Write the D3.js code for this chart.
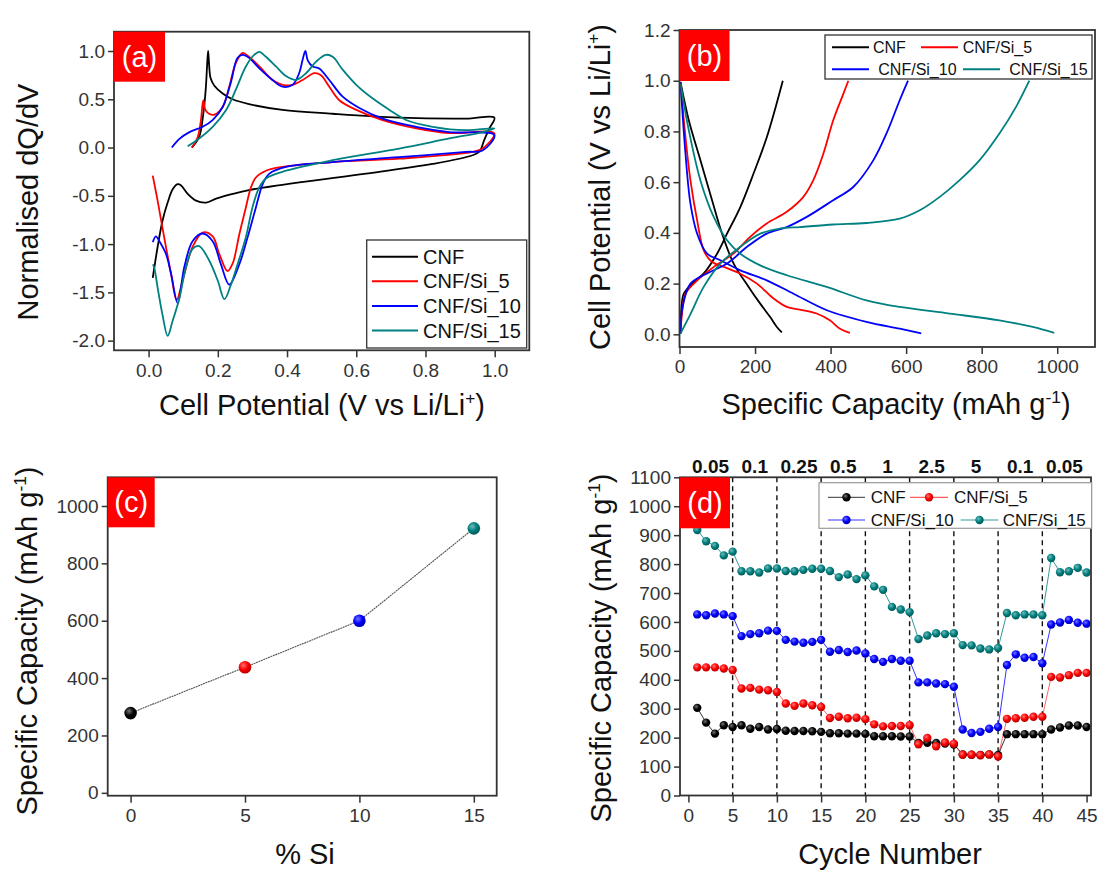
<!DOCTYPE html>
<html><head><meta charset="utf-8">
<script src="https://cdn.jsdelivr.net/npm/d3@7"></script>
<style>
body{margin:0;background:#fff;}
svg{display:block;font-family:"Liberation Sans",Arial,sans-serif;}
</style></head><body>
<svg id="fig" width="1098" height="872"></svg>
<script>
// ---------------- DATA ----------------
const seriesNames = ["CNF", "CNF/Si_5", "CNF/Si_10", "CNF/Si_15"];
const seriesColors = ["#000000", "#ff0000", "#0000ff", "#008080"];

// (a) dQ/dV curves: [potential V, normalised dQ/dV]
const cvCNF = [[0.125,0.0],[0.146,0.11],[0.158,0.35],[0.165,0.6],[0.169,0.85],[0.172,1.0],[0.175,0.85],[0.179,0.72],[0.19,0.64],[0.214,0.56],[0.243,0.5],[0.29,0.45],[0.387,0.39],[0.532,0.35],[0.724,0.31],[0.917,0.30],[0.999,0.31],[0.985,0.2],[0.97,0.08],[0.956,-0.04],[0.936,-0.08],[0.82,-0.17],[0.628,-0.27],[0.435,-0.36],[0.29,-0.44],[0.243,-0.48],[0.195,-0.53],[0.166,-0.57],[0.137,-0.55],[0.113,-0.48],[0.093,-0.39],[0.084,-0.38],[0.07,-0.43],[0.055,-0.57],[0.04,-0.76],[0.026,-1.03],[0.012,-1.35]];
const cvSi5 = [[0.125,0.0],[0.142,0.11],[0.151,0.28],[0.158,0.49],[0.164,0.39],[0.175,0.35],[0.19,0.34],[0.214,0.42],[0.233,0.63],[0.252,0.875],[0.272,0.98],[0.29,0.94],[0.32,0.84],[0.358,0.70],[0.387,0.65],[0.416,0.65],[0.445,0.70],[0.479,0.77],[0.498,0.75],[0.522,0.63],[0.551,0.49],[0.6,0.39],[0.676,0.285],[0.773,0.20],[0.869,0.15],[0.999,0.146],[0.965,-0.01],[0.936,-0.045],[0.724,-0.115],[0.532,-0.15],[0.387,-0.2],[0.339,-0.24],[0.31,-0.31],[0.296,-0.41],[0.281,-0.62],[0.262,-0.9],[0.243,-1.2],[0.228,-1.28],[0.204,-1.1],[0.185,-0.92],[0.156,-0.88],[0.127,-1.03],[0.098,-1.38],[0.081,-1.58],[0.065,-1.31],[0.045,-0.93],[0.026,-0.55],[0.012,-0.29]];
const cvSi10 = [[0.067,0.0],[0.089,0.09],[0.118,0.16],[0.156,0.215],[0.185,0.285],[0.214,0.42],[0.238,0.68],[0.257,0.93],[0.272,0.96],[0.29,0.93],[0.32,0.82],[0.358,0.70],[0.387,0.63],[0.416,0.65],[0.435,0.77],[0.445,0.91],[0.453,1.0],[0.46,0.9],[0.474,0.84],[0.493,0.82],[0.522,0.70],[0.56,0.53],[0.609,0.41],[0.676,0.30],[0.773,0.215],[0.869,0.16],[0.999,0.13],[0.965,-0.03],[0.917,-0.045],[0.724,-0.1],[0.532,-0.15],[0.397,-0.2],[0.349,-0.27],[0.33,-0.375],[0.31,-0.62],[0.286,-0.93],[0.262,-1.21],[0.233,-1.42],[0.209,-1.21],[0.185,-0.97],[0.156,-0.89],[0.127,-0.97],[0.103,-1.24],[0.084,-1.61],[0.065,-1.31],[0.05,-1.1],[0.031,-0.97],[0.021,-0.92],[0.012,-0.98]];
const cvSi15 = [[0.113,0.014],[0.146,0.094],[0.185,0.215],[0.224,0.39],[0.252,0.6],[0.281,0.84],[0.305,0.96],[0.32,0.99],[0.339,0.94],[0.368,0.84],[0.397,0.74],[0.426,0.70],[0.455,0.77],[0.484,0.89],[0.512,0.96],[0.532,0.94],[0.56,0.81],[0.6,0.65],[0.647,0.51],[0.696,0.39],[0.744,0.285],[0.821,0.215],[0.917,0.18],[0.999,0.2],[0.965,0.16],[0.869,0.094],[0.724,-0.01],[0.532,-0.13],[0.397,-0.24],[0.339,-0.32],[0.32,-0.41],[0.3,-0.62],[0.281,-0.93],[0.257,-1.21],[0.238,-1.42],[0.219,-1.57],[0.2,-1.38],[0.175,-1.17],[0.146,-1.02],[0.127,-1.05],[0.108,-1.24],[0.089,-1.56],[0.069,-1.8],[0.055,-1.95],[0.04,-1.73],[0.026,-1.45],[0.016,-1.24],[0.012,-1.21]];

// (b) charge/discharge: [capacity mAh/g, potential V]
const disCNF = [[2.6,0.995],[24.6,0.844],[55.4,0.686],[86.2,0.529],[112.6,0.397],[143.4,0.279],[183,0.187],[213.7,0.121],[240,0.068],[257.7,0.029],[271,0.008]];
const chgCNF = [[2.6,0.003],[5.3,0.108],[11.4,0.16],[33.4,0.2],[64.2,0.24],[99.4,0.318],[125.8,0.397],[161,0.502],[196,0.634],[231.3,0.778],[273.5,1.0]];
const disSi5 = [[2.6,0.995],[15.8,0.778],[29,0.607],[46.6,0.45],[64.2,0.331],[86.2,0.285],[117,0.266],[161,0.239],[205,0.2],[249,0.141],[284,0.108],[319,0.097],[363,0.082],[398,0.055],[425,0.022],[451,0.006]];
const chgSi5 = [[2.6,0.003],[6.6,0.08],[15.8,0.16],[47,0.213],[91,0.266],[143,0.318],[187,0.384],[231,0.437],[284,0.483],[328,0.542],[354,0.607],[381,0.713],[407,0.844],[434,0.949],[447,1.0]];
const disSi10 = [[2.6,0.995],[15.8,0.713],[29,0.515],[46.6,0.397],[73,0.318],[108,0.292],[161,0.252],[231,0.213],[302,0.16],[390,0.095],[495,0.049],[583,0.022],[640,0.004]];
const chgSi10 = [[2.6,0.003],[6.6,0.095],[29,0.2],[73,0.24],[126,0.279],[179,0.345],[231,0.397],[284,0.423],[337,0.463],[407,0.529],[460,0.581],[513,0.686],[548,0.792],[583,0.923],[605,1.0]];
const disSi15 = [[2.6,0.989],[24.6,0.805],[55.4,0.607],[90.6,0.463],[125.8,0.371],[161,0.318],[213.7,0.272],[284,0.233],[389.6,0.187],[495,0.134],[583,0.108],[715,0.082],[847,0.055],[935,0.029],[992,0.006]];
const chgSi15 = [[2.6,0.003],[29,0.08],[64,0.187],[108,0.279],[161,0.345],[214,0.397],[266,0.417],[319,0.423],[407,0.433],[495,0.439],[583,0.456],[636,0.489],[689,0.542],[741,0.607],[794,0.686],[847,0.792],[891,0.897],[926,1.0]];

// (c) capacity vs Si content
const siPercent = [0, 5, 10, 15];
const siCapacity = [278, 438, 600, 922];

// (d) rate capability
const cycles = d3.range(1, 46);
const rateCNF = [303,252,214,243,237,243,231,237,228,230,224,223,223,222,220,215,215,214,214,213,205,205,205,204,204,182,182,182,180,176,142,141,140,142,140,212,212,212,212,212,228,235,242,242,237];
const rateSi5 = [443,443,443,439,434,370,372,366,364,358,318,310,318,312,306,268,272,267,269,264,246,239,240,240,243,177,199,170,183,179,141,141,139,142,135,265,267,269,272,272,410,408,416,424,424];
const rateSi10 = [626,623,629,626,620,551,558,561,570,569,538,532,528,531,538,497,503,496,501,491,472,462,472,466,466,391,391,387,385,376,228,216,220,231,237,451,488,476,479,457,591,598,607,597,594];
const rateSi15 = [918,879,863,830,843,775,775,771,785,785,776,775,780,784,784,776,755,764,748,761,723,711,652,643,634,541,553,561,558,561,520,519,508,505,510,631,623,626,626,623,821,772,775,787,771];
const rateBoundaries = [0, 5, 10, 15, 20, 25, 30, 35, 40, 45];
const rateLabels = ["0.05", "0.1", "0.25", "0.5", "1", "2.5", "5", "0.1", "0.05"];

// ---------------- DRAW ----------------
const svg = d3.select("#fig");
const AX = "#333";
const TICKFS = 19, TITLEFS = 29;

function panel(x0, x1, y0, y1, xd, yd) {
  return {
    x: d3.scaleLinear().domain(xd).range([x0, x1]),
    y: d3.scaleLinear().domain(yd).range([y1, y0])
  };
}
function styleAxis(g) {
  g.select(".domain").remove();
  g.selectAll(".tick line").attr("stroke", AX).attr("stroke-width", 1.5);
  g.selectAll(".tick text").attr("fill", "#333").attr("font-size", TICKFS)
    .attr("font-family", '"Liberation Sans",Arial,sans-serif');
}
function axes(p, xt, xf, yt, yf) {
  const [xl, xr] = p.x.range(); const [yb, ytop] = p.y.range();
  svg.append("g").attr("transform", `translate(0,${yb})`)
    .call(d3.axisBottom(p.x).tickValues(xt).tickFormat(xf).tickSize(7).tickPadding(6)).call(styleAxis);
  svg.append("g").attr("transform", `translate(${xl},0)`)
    .call(d3.axisLeft(p.y).tickValues(yt).tickFormat(yf).tickSize(6).tickPadding(3)).call(styleAxis);
}
function frame(p) {
  const [xl, xr] = p.x.range(); const [yb, ytop] = p.y.range();
  svg.append("rect").attr("x", xl).attr("y", ytop).attr("width", xr - xl).attr("height", yb - ytop)
    .attr("fill", "none").attr("stroke", AX).attr("stroke-width", 1.8);
}
function tag(p, label, w, h) {
  const xl = p.x.range()[0], ytop = p.y.range()[1];
  svg.append("rect").attr("x", xl).attr("y", ytop).attr("width", w).attr("height", h).attr("fill", "#ff0000");
  svg.append("text").attr("x", xl + w / 2).attr("y", ytop + h / 2 + 10).attr("text-anchor", "middle")
    .attr("fill", "#fff").attr("font-size", 29).text(label);
}
// rich text with superscripts: parts = [[text, isSup], ...]
function richText(sel, parts, fs) {
  let shifted = false;
  parts.forEach(([t, sup]) => {
    const ts = sel.append("tspan").text(t);
    if (sup) { ts.attr("font-size", fs * 0.6).attr("dy", -fs * 0.38); shifted = true; }
    else if (shifted) { ts.attr("dy", fs * 0.38); shifted = false; }
  });
}
function titleX(cx, by, parts) {
  const t = svg.append("text").attr("x", cx).attr("y", by).attr("text-anchor", "middle")
    .attr("font-size", TITLEFS).attr("fill", "#111");
  richText(t, parts, TITLEFS);
}
function titleY(bx, cy, parts) {
  const t = svg.append("text").attr("transform", `translate(${bx},${cy}) rotate(-90)`)
    .attr("text-anchor", "middle").attr("font-size", TITLEFS).attr("fill", "#111");
  richText(t, parts, TITLEFS);
}
const f1 = v => v.toFixed(1);
const f0 = v => String(v);

// ===== Panel (a) =====
const pa = panel(114, 529.3, 31.7, 350.3, [-0.1, 1.1], [-2.1, 1.2]);
axes(pa, [0, 0.2, 0.4, 0.6, 0.8, 1.0], f1, [-2, -1.5, -1, -0.5, 0, 0.5, 1.0], f1);
const lineA = d3.line().x(d => pa.x(d[0])).y(d => pa.y(d[1])).curve(d3.curveCatmullRom.alpha(0.5));
[cvCNF, cvSi5, cvSi10, cvSi15].forEach((d, i) => {
  svg.append("path").attr("d", lineA(d)).attr("fill", "none").attr("stroke", seriesColors[i])
    .attr("stroke-width", 1.8).attr("stroke-linejoin", "round");
});
frame(pa);
tag(pa, "(a)", 51, 50);
// legend (a)
{
  const lg = svg.append("g");
  lg.append("rect").attr("x", 366.7).attr("y", 240).attr("width", 160).attr("height", 108)
    .attr("fill", "#fff").attr("stroke", AX).attr("stroke-width", 1.3);
  seriesNames.forEach((n, i) => {
    const yy = 256.7 + i * 24.6;
    lg.append("line").attr("x1", 372).attr("x2", 418).attr("y1", yy).attr("y2", yy)
      .attr("stroke", seriesColors[i]).attr("stroke-width", 2);
    lg.append("text").attr("x", 423).attr("y", yy + 7).attr("font-size", 20).attr("fill", "#111").text(n);
  });
}
titleX(322, 415, [["Cell Potential (V vs Li/Li"], ["+", true], [")"]]);
titleY(38, 202, [["Normalised dQ/dV"]]);

// ===== Panel (b) =====
const pb = panel(679.5, 1095, 30, 347, [0, 1100], [-0.05, 1.2]);
axes(pb, [0, 200, 400, 600, 800, 1000], f0, [0, 0.2, 0.4, 0.6, 0.8, 1.0, 1.2], f1);
const lineB = d3.line().x(d => pb.x(d[0])).y(d => pb.y(d[1])).curve(d3.curveCatmullRom.alpha(0.5));
[[disCNF, chgCNF], [disSi5, chgSi5], [disSi10, chgSi10], [disSi15, chgSi15]].forEach((pair, i) => {
  pair.forEach(d => svg.append("path").attr("d", lineB(d)).attr("fill", "none")
    .attr("stroke", seriesColors[i]).attr("stroke-width", 1.8));
});
frame(pb);
tag(pb, "(b)", 50, 51);
{
  const lg = svg.append("g");
  lg.append("rect").attr("x", 825).attr("y", 35).attr("width", 267).attr("height", 44)
    .attr("fill", "#fff").attr("stroke", AX).attr("stroke-width", 1.3);
  const items = [
    {i: 0, x1: 832, x2: 869, tx: 873, y: 47.3},
    {i: 1, x1: 921, x2: 958, tx: 962.7, y: 47.3},
    {i: 2, x1: 832, x2: 869, tx: 878.3, y: 69.3},
    {i: 3, x1: 963, x2: 1000, tx: 1009.3, y: 69.3}
  ];
  items.forEach(it => {
    lg.append("line").attr("x1", it.x1).attr("x2", it.x2).attr("y1", it.y).attr("y2", it.y)
      .attr("stroke", seriesColors[it.i]).attr("stroke-width", 2);
    lg.append("text").attr("x", it.tx).attr("y", it.y + 5.5).attr("font-size", 16).attr("fill", "#111")
      .text(seriesNames[it.i]);
  });
}
titleY(610, 187, [["Cell Potential (V vs Li/Li"], ["+", true], [")"]]);
titleX(896, 414, [["Specific Capacity (mAh g"], ["-1", true], [")"]]);

// gradients for spherical markers
const defs = svg.append("defs");
seriesColors.forEach((c, i) => {
  const g = defs.append("radialGradient").attr("id", "sph" + i).attr("cx", "38%").attr("cy", "35%").attr("r", "65%");
  g.append("stop").attr("offset", "0%").attr("stop-color", d3.interpolateRgb(c, "#fff")(0.45));
  g.append("stop").attr("offset", "55%").attr("stop-color", c);
  g.append("stop").attr("offset", "100%").attr("stop-color", d3.interpolateRgb(c, "#000")(0.3));
});

// ===== Panel (c) =====
const pc = panel(107.7, 496.7, 477.3, 795.7, [-1, 16], [-10, 1100]);
axes(pc, [0, 5, 10, 15], f0, [0, 200, 400, 600, 800, 1000], f0);
const lineC = d3.line().x((d, i) => pc.x(siPercent[i])).y(d => pc.y(d));
svg.append("path").attr("d", lineC(siCapacity)).attr("fill", "none").attr("stroke", "#555")
  .attr("stroke-width", 1.1).attr("stroke-dasharray", "2,0.6");
svg.selectAll(".dotC").data(siCapacity).enter().append("circle")
  .attr("cx", (d, i) => pc.x(siPercent[i])).attr("cy", d => pc.y(d)).attr("r", 6.3)
  .attr("fill", (d, i) => `url(#sph${i})`);
frame(pc);
tag(pc, "(c)", 47, 50);
titleY(37, 641, [["Specific Capacity (mAh g"], ["-1", true], [")"]]);
titleX(305, 864, [["% Si"]]);

// ===== Panel (d) =====
const pd = panel(680, 1091, 477.3, 795.5, [-0.95, 45.5], [0, 1100]);
axes(pd, d3.range(0, 46, 5), f0, d3.range(0, 1101, 100), f0);
// dashed rate boundaries
rateBoundaries.slice(1, -1).forEach(b => {
  svg.append("line").attr("x1", pd.x(b)).attr("x2", pd.x(b)).attr("y1", pd.y(1100)).attr("y2", pd.y(0))
    .attr("stroke", "#111").attr("stroke-width", 1.4).attr("stroke-dasharray", "5,4");
});
// rate labels above
rateLabels.forEach((l, i) => {
  svg.append("text").attr("x", pd.x((rateBoundaries[i] + rateBoundaries[i + 1]) / 2)).attr("y", 473)
    .attr("text-anchor", "middle").attr("font-size", 19).attr("font-weight", "bold").attr("fill", "#111").text(l);
});
const rateSeries = [rateCNF, rateSi5, rateSi10, rateSi15];
const lineD = d3.line().x((d, i) => pd.x(cycles[i])).y(d => pd.y(d));
rateSeries.forEach((s, k) => {
  svg.append("path").attr("d", lineD(s)).attr("fill", "none").attr("stroke", seriesColors[k])
    .attr("stroke-width", 1).attr("stroke-opacity", k === 1 ? 0.6 : 0.8);
});
rateSeries.forEach((s, k) => {
  svg.append("g").selectAll("circle").data(s).enter().append("circle")
    .attr("cx", (d, i) => pd.x(cycles[i])).attr("cy", d => pd.y(d)).attr("r", 4.2)
    .attr("fill", `url(#sph${k})`);
});
frame(pd);
tag(pd, "(d)", 50, 51);
{
  const lg = svg.append("g");
  lg.append("rect").attr("x", 819).attr("y", 482.7).attr("width", 272.7).attr("height", 45.6)
    .attr("fill", "#fff").attr("stroke", "#999").attr("stroke-width", 1.2);
  const items = [
    {i: 0, x1: 828, x2: 865, tx: 870.7, y: 497.3},
    {i: 1, x1: 910, x2: 948, tx: 954, y: 497.3},
    {i: 2, x1: 828, x2: 865, tx: 870.7, y: 520},
    {i: 3, x1: 960.7, x2: 998.3, tx: 1002.7, y: 520}
  ];
  items.forEach(it => {
    lg.append("line").attr("x1", it.x1).attr("x2", it.x2).attr("y1", it.y).attr("y2", it.y)
      .attr("stroke", seriesColors[it.i]).attr("stroke-width", 1).attr("stroke-opacity", 0.8);
    lg.append("circle").attr("cx", (it.x1 + it.x2) / 2).attr("cy", it.y).attr("r", 4.2)
      .attr("fill", `url(#sph${it.i})`);
    lg.append("text").attr("x", it.tx).attr("y", it.y + 6).attr("font-size", 17).attr("fill", "#111")
      .text(seriesNames[it.i]);
  });
}
titleY(611, 648, [["Specific Capacity (mAh g"], ["-1", true], [")"]]);
titleX(890, 864, [["Cycle Number"]]);
</script>
</body></html>
